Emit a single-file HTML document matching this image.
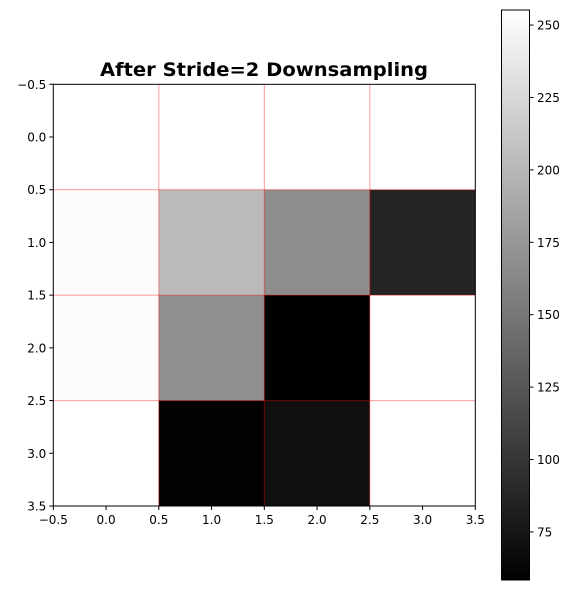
<!DOCTYPE html>
<html><head><meta charset="utf-8"><style>
body{margin:0;background:#fff;font-family:"Liberation Sans","DejaVu Sans",sans-serif;}
svg text{font-family:"DejaVu Sans","Liberation Sans",sans-serif;}
</style></head><body>
<svg id="chart" width="575" height="590" xmlns="http://www.w3.org/2000/svg">
<defs><linearGradient id="cbg" x1="0" y1="1" x2="0" y2="0"><stop offset="0" stop-color="#000"/><stop offset="1" stop-color="#fff"/></linearGradient></defs>
<text x="264" y="76" text-anchor="middle" font-size="19" font-weight="bold" textLength="328" lengthAdjust="spacingAndGlyphs">After Stride=2 Downsampling</text>
<g id="cells"></g><g id="grid"></g>
<rect x="53.3" y="84.3" width="422" height="421.7" fill="none" stroke="#000" stroke-width="1"/>
<g id="axes"></g>
<rect x="501.5" y="10" width="28" height="570" fill="url(#cbg)" stroke="#000" stroke-width="1"/>
<g id="cbticks"></g>
</svg>
<script>
const values = [
  [255, 255, 255, 255],
  [253, 202, 167, 86],
  [253, 169, 58, 255],
  [255, 60, 70, 255]
];
const axisTicks = [-0.5, 0.0, 0.5, 1.0, 1.5, 2.0, 2.5, 3.0, 3.5];
const gridLines = [0.5, 1.5, 2.5];
const cbTicks = [75, 100, 125, 150, 175, 200, 225, 250];
const vmin = 58.4, vmax = 255.2;

const NS = "http://www.w3.org/2000/svg";
const x0 = 53.3, x1 = 475.3, y0 = 84.3, y1 = 506;
const sx = v => x0 + (v + 0.5) / 4 * (x1 - x0);
const sy = v => y0 + (v + 0.5) / 4 * (y1 - y0);
const cy = v => 10 + (vmax - v) / (vmax - vmin) * 570;
function mk(tag, attrs, parent) { const e = document.createElementNS(NS, tag); for (const k in attrs) e.setAttribute(k, attrs[k]); parent.appendChild(e); return e; }
const cells = document.getElementById('cells');
values.forEach((row, r) => row.forEach((v, c) => {
  let g = Math.round(Math.max(0, Math.min(1, (v - vmin) / (vmax - vmin))) * 255);
  const el = mk('rect', { x: sx(c - 0.5), y: sy(r - 0.5), width: sx(c + 0.5) - sx(c - 0.5) + 0.3, height: sy(r + 0.5) - sy(r - 0.5) + 0.3, fill: `rgb(${g},${g},${g})` }, cells);
  
  
}));
const grid = document.getElementById('grid');
gridLines.forEach(v => {
  const a = mk('line', { x1: sx(v), x2: sx(v), y1: y0, y2: y1, stroke: 'rgba(255,0,0,0.4)', 'stroke-width': 1 }, grid);
  
  
  const b = mk('line', { x1: x0, x2: x1, y1: sy(v), y2: sy(v), stroke: 'rgba(255,0,0,0.4)', 'stroke-width': 1 }, grid);
  
  
});
const axes = document.getElementById('axes');
axisTicks.forEach(v => {
  const lbl = v < 0 ? '\u2212' + Math.abs(v).toFixed(1) : v.toFixed(1);
  mk('line', { x1: sx(v), x2: sx(v), y1: y1, y2: y1 + 4, stroke: '#000' }, axes);
  const t = mk('text', { x: sx(v), y: y1 + 18, 'text-anchor': 'middle', 'font-size': 12 }, axes);
  t.textContent = lbl;
  
  
  mk('line', { x1: x0 - 4, x2: x0, y1: sy(v), y2: sy(v), stroke: '#000' }, axes);
  const u = mk('text', { x: x0 - 7, y: sy(v) + 4.5, 'text-anchor': 'end', 'font-size': 12 }, axes);
  u.textContent = lbl;
  
  
});
const cbt = document.getElementById('cbticks');
cbTicks.forEach(v => {
  mk('line', { x1: 529.5, x2: 533.5, y1: cy(v), y2: cy(v), stroke: '#000' }, cbt);
  const t = mk('text', { x: 537, y: cy(v) + 4.5, 'font-size': 12 }, cbt);
  t.textContent = v;
  
  
});
</script>
</body></html>
